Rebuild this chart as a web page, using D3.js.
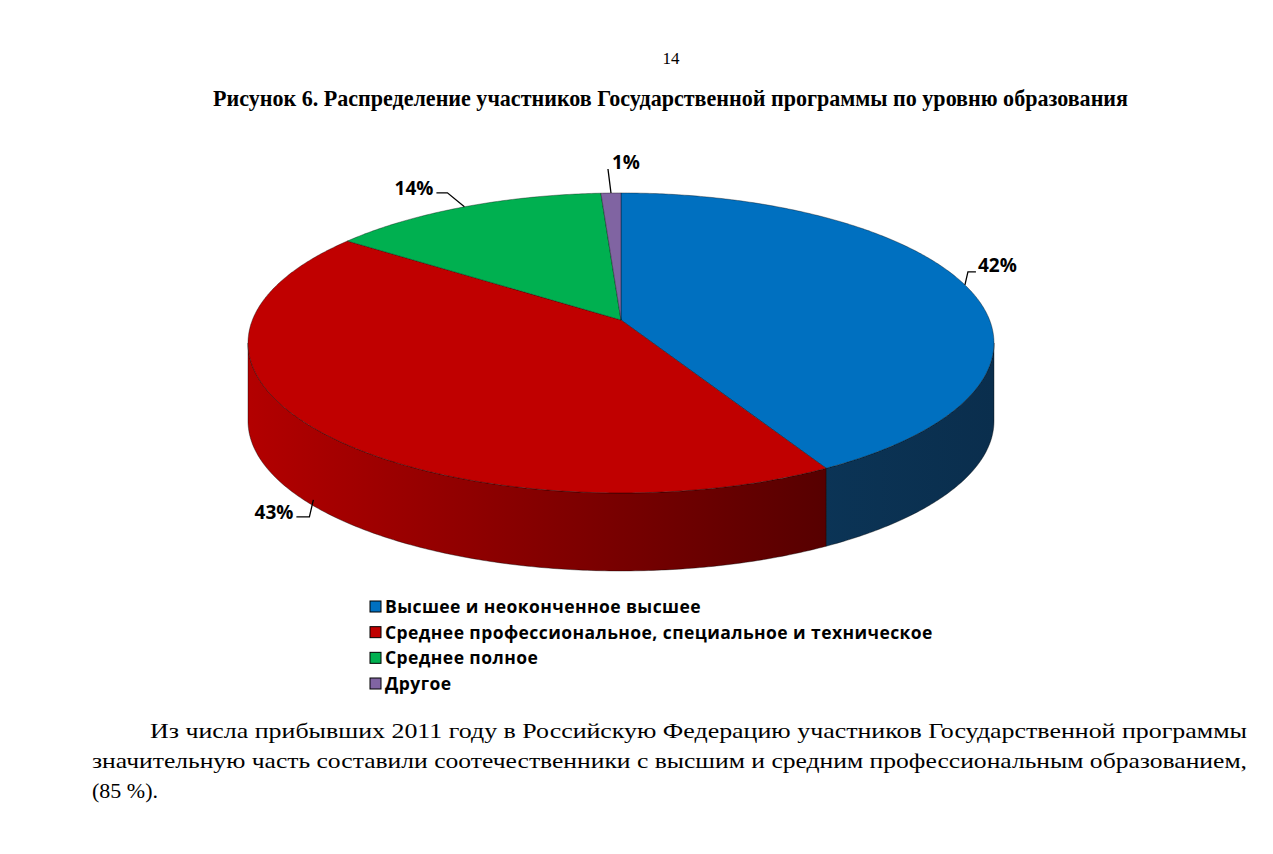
<!DOCTYPE html>
<html>
<head>
<meta charset="utf-8">
<script src="https://cdn.jsdelivr.net/npm/d3@7/dist/d3.min.js"></script>
<style>
    body { margin: 0; background: #fff; }
    svg { display: block; }
</style>
</head>
<body>
<svg id="chart" width="1273" height="854"></svg>
<script>
// данные диаграммы
const categories = [
    'Высшее и неоконченное высшее',
    'Среднее профессиональное, специальное и техническое',
    'Среднее полное',
    'Другое'
];
const values = [42, 43, 14, 1];
const labels = ['42%', '43%', '14%', '1%'];
const colors = ['#0070C0', '#C00000', '#00B050', '#8064A2'];

const pageNumber = '14';
const title = 'Рисунок 6. Распределение участников Государственной программы по уровню образования';
const paragraph = [
    'Из числа прибывших 2011 году в Российскую Федерацию участников Государственной программы',
    'значительную часть составили соотечественники с высшим и средним профессиональным образованием,',
    '(85 %).'
];

const svg = d3.select('#chart');

// параметры перспективы
const cx = 621, cy = 320;
const A = 368.6, B = 146.5, k = 0.153;
const depth = 78;

function proj(phi, dz = 0) {
    let u = Math.sin(phi);
    let v = -Math.cos(phi);
    let d = 1 - k * v;
    return [cx + A * u / d, cy + B * v / d + dz];
}

function arcPts(a0, a1, dz) {
    let n = Math.max(2, Math.ceil(Math.abs(a1 - a0) / 0.01));
    let pts = [];
    for (let i = 0; i <= n; i++) {
        pts.push(proj(a0 + (a1 - a0) * i / n, dz));
    }
    return pts;
}

const pie = d3.pie().sort(null).value(d => d)(values);
const line = d3.line();

// градиенты боковых стенок
const defs = svg.append('defs');
const gRed = defs.append('linearGradient')
    .attr('id', 'sideRed')
    .attr('gradientUnits', 'userSpaceOnUse')
    .attr('x1', 250).attr('x2', 830).attr('y1', 0).attr('y2', 0);
gRed.append('stop').attr('offset', 0).attr('stop-color', '#B20000');
gRed.append('stop').attr('offset', 1).attr('stop-color', '#560000');
const gBlue = defs.append('linearGradient')
    .attr('id', 'sideBlue')
    .attr('gradientUnits', 'userSpaceOnUse')
    .attr('x1', 820).attr('x2', 995).attr('y1', 0).attr('y2', 0);
gBlue.append('stop').attr('offset', 0).attr('stop-color', '#0B3456');
gBlue.append('stop').attr('offset', 1).attr('stop-color', '#0A2E4D');
const sideFill = ['url(#sideBlue)', 'url(#sideRed)', '#007A38', '#5A4676'];

const chartGroup = svg.append('g').attr('class', 'pie3d');

// боковые стенки (видимая передняя часть)
const visA = Math.acos(-k);
const visB = 2 * Math.PI - visA;
pie.forEach((s, i) => {
    let a0 = Math.max(s.startAngle, visA);
    let a1 = Math.min(s.endAngle, visB);
    if (a1 <= a0) return;
    let top = arcPts(a0, a1, 0);
    let bot = arcPts(a1, a0, depth);
    chartGroup.append('path')
        .attr('d', line(top.concat(bot)) + 'Z')
        .attr('fill', sideFill[i])
        .attr('stroke', 'rgba(0,0,0,0.55)')
        .attr('stroke-width', 0.7)
        .attr('stroke-linejoin', 'round');
});

// верхняя грань
pie.forEach((s, i) => {
    let pts = [[cx, cy]].concat(arcPts(s.startAngle, s.endAngle, 0));
    chartGroup.append('path')
        .attr('d', line(pts) + 'Z')
        .attr('fill', colors[i])
        .attr('stroke', 'rgba(0,0,0,0.5)')
        .attr('stroke-width', 0.7)
        .attr('stroke-linejoin', 'round');
});

// подписи долей: точка привязки на ободе (dz - сдвиг вниз по стенке),
// изломы выноски и положение текста относительно точки привязки
const leaderLayout = [
    { dz: 0, pts: [[3, -13], [11, -13]], anchor: 'start', tx: 13, ty: -13 },
    { dz: 72, pts: [[-4, 17], [-17, 17]], anchor: 'end', tx: -20, ty: 19 },
    { dz: 0, pts: [[-17, -14], [-28, -14]], anchor: 'end', tx: -31, ty: -12 },
    { dz: 0, pts: [[-3, -24]], anchor: 'start', tx: 1, ty: -24 }
];
pie.forEach((s, i) => {
    let mid = (s.startAngle + s.endAngle) / 2;
    let lay = leaderLayout[i];
    let p = proj(mid, lay.dz);
    let pts = [p].concat(lay.pts.map(o => [p[0] + o[0], p[1] + o[1]]));
    chartGroup.append('path')
        .attr('d', line(pts))
        .attr('fill', 'none')
        .attr('stroke', '#000')
        .attr('stroke-width', 1.3);
    chartGroup.append('text')
        .attr('x', p[0] + lay.tx)
        .attr('y', p[1] + lay.ty)
        .attr('text-anchor', lay.anchor)
        .attr('font-family', 'Open Sans, sans-serif')
        .attr('font-weight', 'bold')
        .attr('font-size', 19)
        .attr('fill', '#000')
        .text(labels[i]);
});

// легенда
const legend = svg.append('g').attr('class', 'legend');
const legendY = d3.scalePoint().domain(categories).range([607, 684]);
categories.forEach((c, i) => {
    let y = legendY(c);
    legend.append('rect')
        .attr('x', 370).attr('y', y - 6)
        .attr('width', 11).attr('height', 11)
        .attr('fill', colors[i])
        .attr('stroke', '#000')
        .attr('stroke-width', 1);
    legend.append('text')
        .attr('x', 385).attr('y', y + 6)
        .attr('font-family', 'Open Sans, sans-serif')
        .attr('font-weight', 'bold')
        .attr('font-size', 17.5)
        .attr('letter-spacing', 0.42)
        .attr('fill', '#000')
        .text(c);
});

// текст страницы
svg.append('text')
    .attr('x', 671).attr('y', 64)
    .attr('text-anchor', 'middle')
    .attr('font-family', 'Liberation Serif, serif')
    .attr('font-size', 17)
    .text(pageNumber);

svg.append('text')
    .attr('x', 213).attr('y', 106)
    .attr('textLength', 915)
    .attr('lengthAdjust', 'spacingAndGlyphs')
    .attr('font-family', 'Liberation Serif, serif')
    .attr('font-weight', 'bold')
    .attr('font-size', 24)
    .text(title);

const para = [
    { x: 150, y: 738, w: 1097 },
    { x: 92, y: 768, w: 1155 },
    { x: 92, y: 798, w: null }
];
paragraph.forEach((t, i) => {
    let el = svg.append('text')
        .attr('x', para[i].x).attr('y', para[i].y)
        .attr('font-family', 'Liberation Serif, serif')
        .attr('font-size', 22)
        .text(t);
    if (para[i].w) el.attr('textLength', para[i].w).attr('lengthAdjust', 'spacingAndGlyphs');
});
</script>
</body>
</html>
